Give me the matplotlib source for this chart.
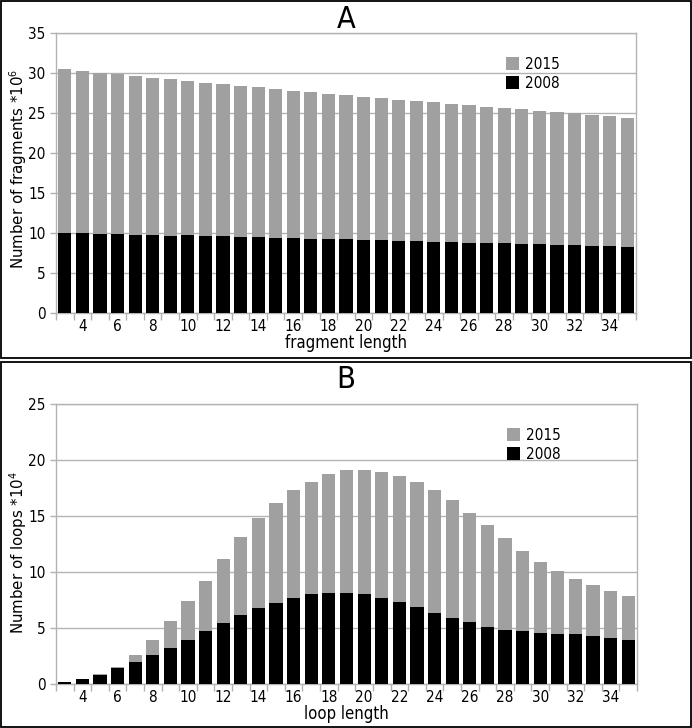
import matplotlib

matplotlib.use("Agg")
import matplotlib.pyplot as plt
import numpy as np
from matplotlib.patches import Rectangle

plt.rcParams["font.stretch"] = "condensed"

lengths = list(range(3, 36))

frag_2015 = [30.5, 30.3, 30.05, 29.83, 29.63, 29.42, 29.21, 29.0, 28.79, 28.58,
             28.38, 28.21, 28.0, 27.79, 27.63, 27.42, 27.21, 27.04, 26.83, 26.67,
             26.5, 26.33, 26.13, 25.96, 25.79, 25.63, 25.46, 25.29, 25.13, 25.0,
             24.75, 24.58, 24.42]
frag_2008 = [10.0, 9.95, 9.9, 9.85, 9.79, 9.73, 9.67, 9.72, 9.67, 9.6,
             9.55, 9.48, 9.43, 9.36, 9.31, 9.25, 9.2, 9.13, 9.08, 9.03,
             8.97, 8.9, 8.85, 8.8, 8.74, 8.69, 8.63, 8.57, 8.52, 8.46,
             8.4, 8.35, 8.27]

loop_2015 = [0.2, 0.45, 0.87, 1.52, 2.57, 3.97, 5.61, 7.37, 9.19, 11.19,
             13.16, 14.83, 16.2, 17.3, 18.05, 18.73, 19.09, 19.1, 18.91, 18.59,
             18.05, 17.3, 16.41, 15.3, 14.17, 13.04, 11.9, 10.89, 10.11, 9.4,
             8.83, 8.32, 7.88]
loop_2008 = [0.18, 0.42, 0.78, 1.4, 2.0, 2.57, 3.19, 3.94, 4.71, 5.49,
             6.12, 6.77, 7.25, 7.7, 8.05, 8.11, 8.14, 8.02, 7.7, 7.31,
             6.89, 6.38, 5.91, 5.55, 5.1, 4.86, 4.71, 4.56, 4.47, 4.42,
             4.3, 4.09, 3.94]

series_labels = ["2015", "2008"]
even_ticks = list(range(4, 35, 2))

GRAY = "#a0a0a0"
GRID = "#b3b3b3"
W, H = 692, 728


def draw_panel(ax, top, bottom, ymax, ylabel, xlabel, label_y):
    x = np.array(lengths)
    ax.bar(x, top, width=0.75, color=GRAY, label=series_labels[0], zorder=2)
    ax.bar(x, bottom, width=0.75, color="black", label=series_labels[1], zorder=3)
    ax.set_xlim(x[0] - 0.5, x[-1] + 0.5)
    ax.set_ylim(0, ymax)
    ax.set_yticks(np.arange(0, ymax + 1, 5))
    ax.yaxis.grid(True, color=GRID, linewidth=1.0, zorder=0)
    ax.set_axisbelow(True)
    # boundary ticks between categories, labels centered on even bars
    ax.set_xticks(np.arange(x[0] - 0.5, x[-1] + 1.0, 1.0))
    ax.set_xticklabels([])
    ax.set_xticks(even_ticks, minor=True)
    ax.set_xticklabels([str(v) for v in even_ticks], minor=True)
    ax.tick_params(axis="x", which="major", length=5, color=GRID, width=1)
    ax.tick_params(axis="x", which="minor", length=0, labelsize=11, pad=4)
    ax.tick_params(axis="y", length=4, color=GRID, width=1, labelsize=11)
    for spine in ax.spines.values():
        spine.set_color(GRID)
        spine.set_linewidth(1.0)
    ax.set_ylabel(ylabel, fontsize=10.8, fontstretch="normal", va="center")
    ax.yaxis.set_label_coords(-38 / 580, label_y)
    ax.set_xlabel(xlabel, fontsize=12, labelpad=0)
    ax.legend(loc="upper left", bbox_to_anchor=(0.765, 0.937), frameon=False,
              fontsize=11, handlelength=0.85, handleheight=0.9,
              handletextpad=0.4, labelspacing=0.25, borderaxespad=0)


fig = plt.figure(figsize=(W / 100, H / 100), dpi=100)

ax_a = fig.add_axes([56 / W, (H - 313) / H, 580 / W, 280 / H])
draw_panel(ax_a, frag_2015, frag_2008, 35, "Number of fragments *10$^{6}$",
           "fragment length", 0.515)
ax_b = fig.add_axes([56 / W, (H - 684) / H, 581 / W, 280 / H])
draw_panel(ax_b, loop_2015, loop_2008, 25, "Number of loops *10$^{4}$",
           "loop length", 0.47)

fig.text(346 / W, 1 - 19 / H, "A", ha="center", va="center", fontsize=22)
fig.text(346 / W, 1 - 379 / H, "B", ha="center", va="center", fontsize=22)

fig.patches.append(Rectangle((1 / W, (H - 358) / H), (W - 2) / W, 357 / H,
                             transform=fig.transFigure, fill=False,
                             edgecolor="black", linewidth=1.3))
fig.patches.append(Rectangle((1 / W, 1 / H), (W - 2) / W, (H - 363) / H,
                             transform=fig.transFigure, fill=False,
                             edgecolor="black", linewidth=1.3))

fig.savefig("out.png", dpi=100)
plt.close(fig)
